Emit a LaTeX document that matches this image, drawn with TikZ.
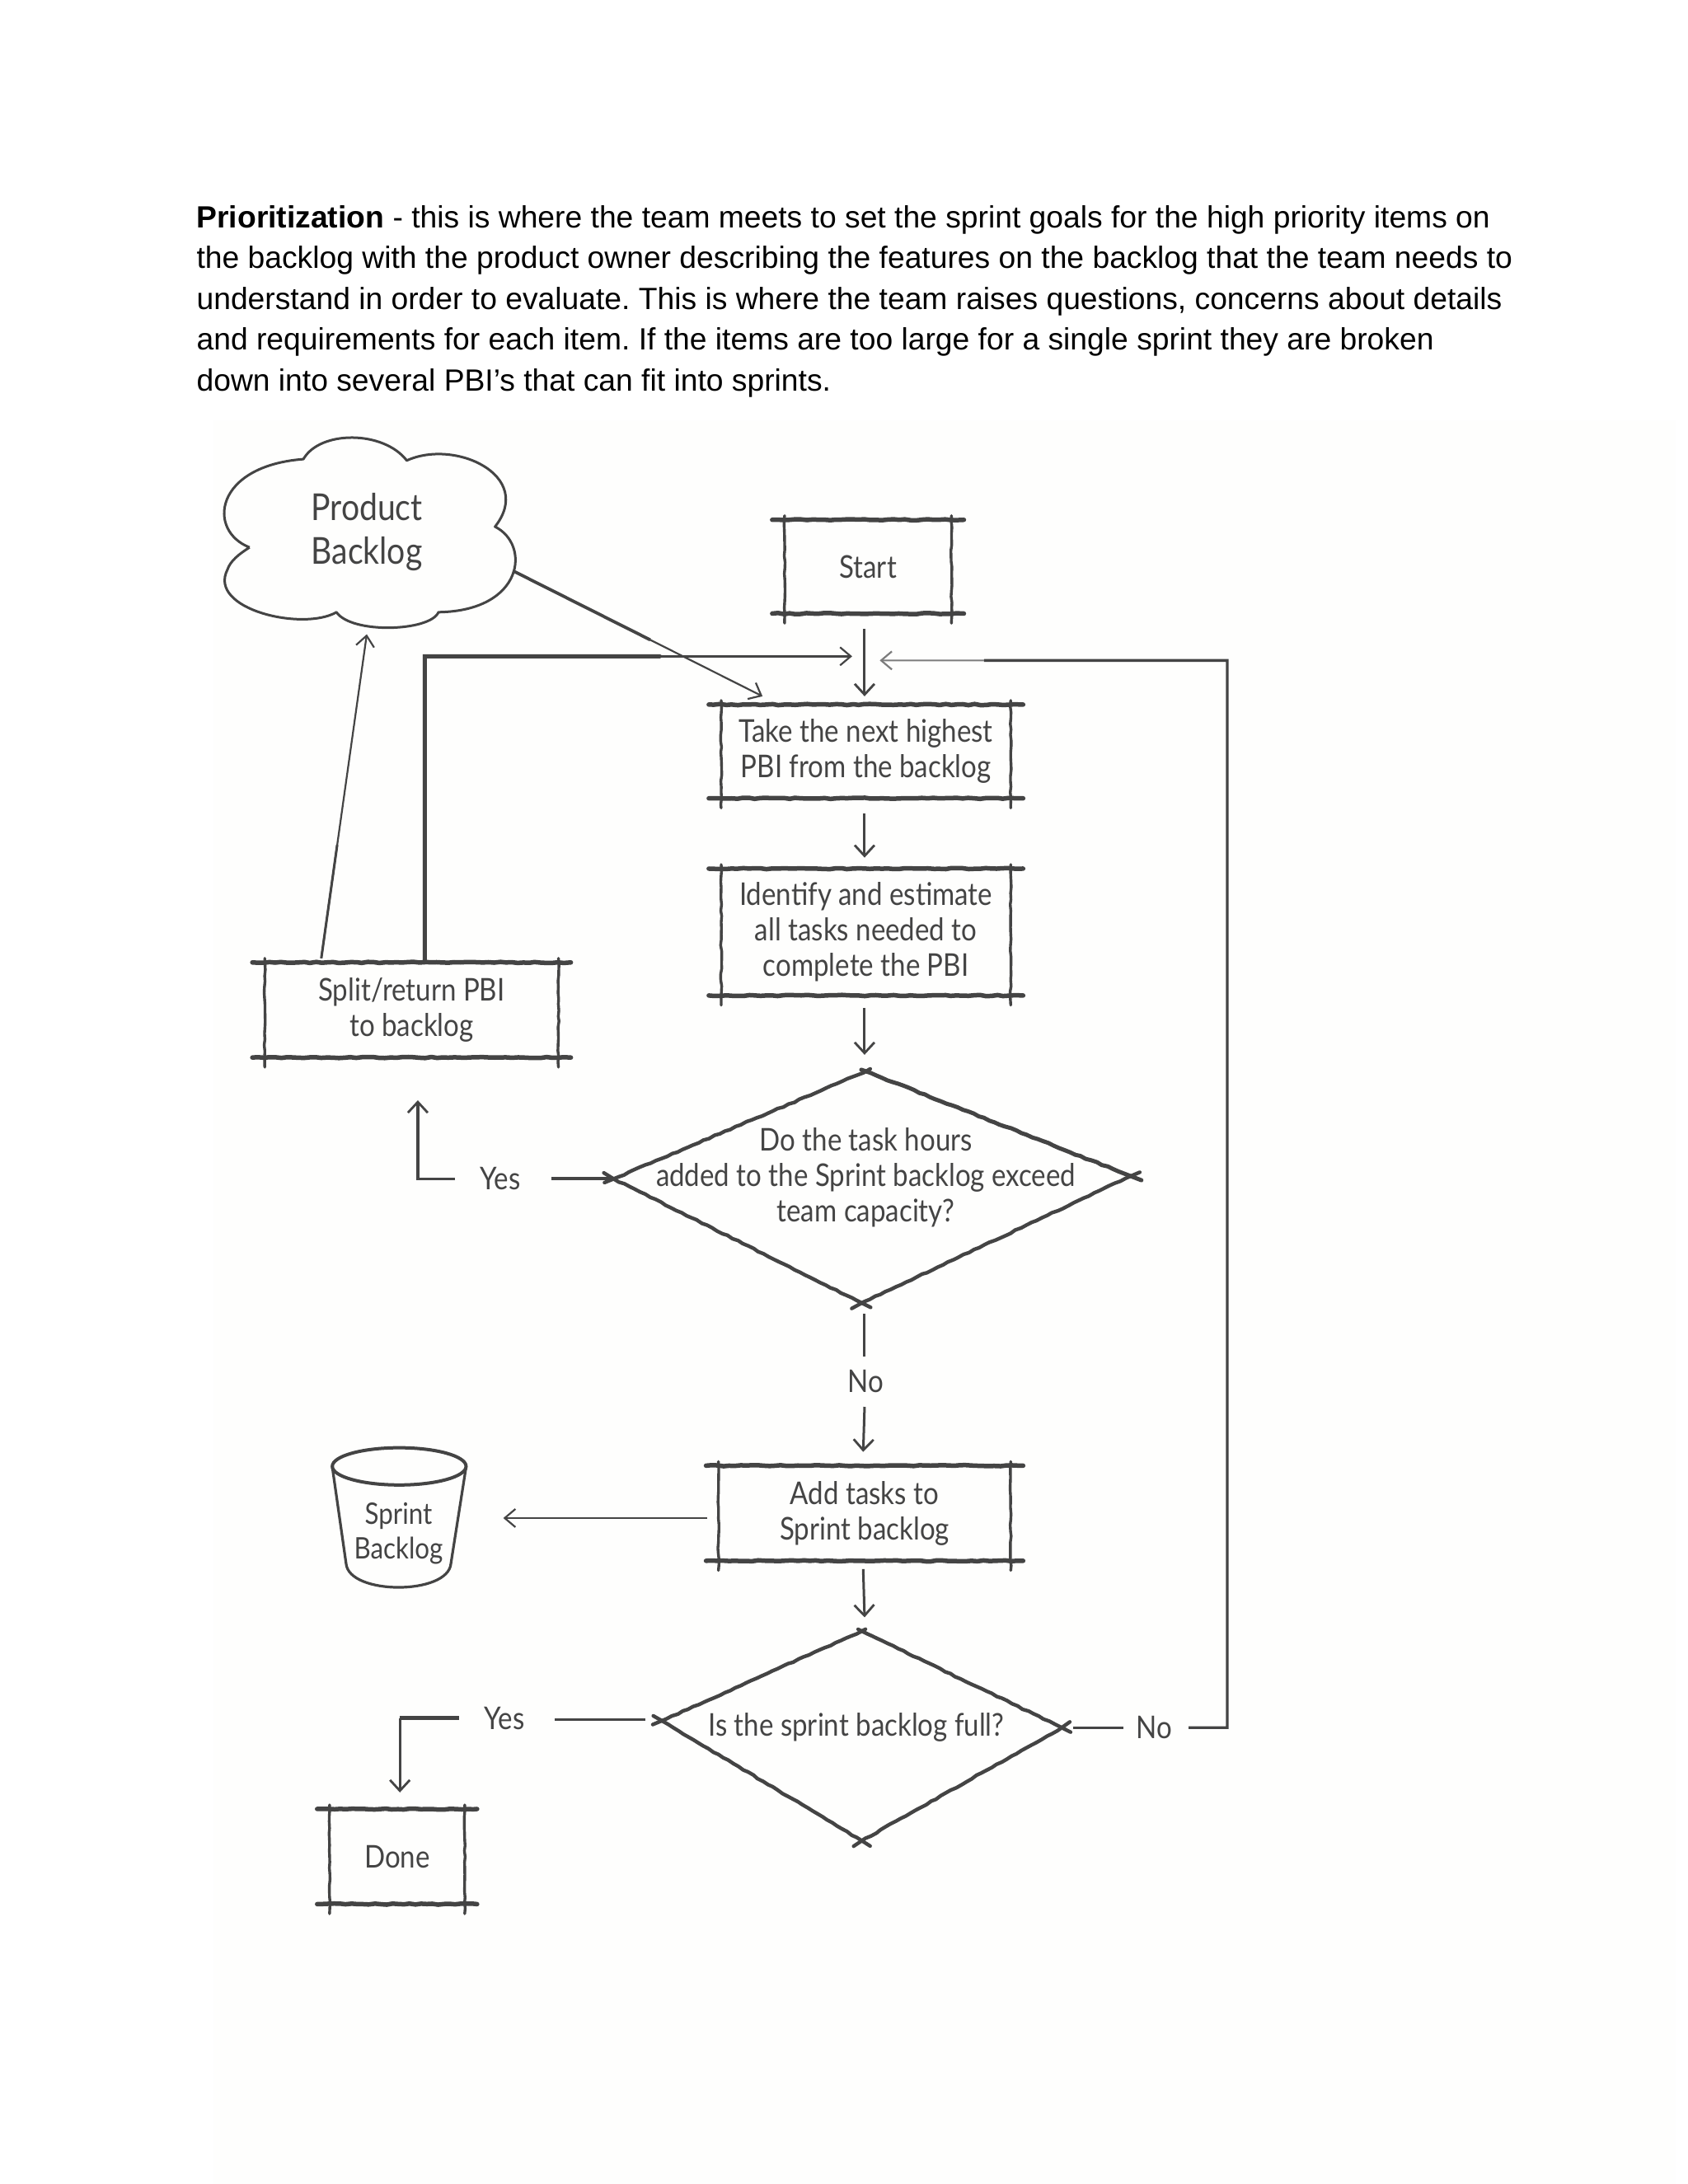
\documentclass[tikz,border=0pt]{standalone}
\usepackage{fontspec}
\setmainfont{Liberation Sans}
\newfontfamily\handfont[FakeStretch=0.87]{Lato}
\usetikzlibrary{arrows.meta,decorations.pathmorphing,fit,calc,shapes.geometric}
\definecolor{ink}{HTML}{444444}
\definecolor{paper}{HTML}{FEFEFD}
\frenchspacing
\tikzset{
  x=1.673pt,y=-1.673pt,
  bodyline/.style={anchor=base west,inner sep=0pt,font=\fontsize{37.25}{44}\selectfont,text=black},
  handtext/.style={font=\handfont\fontsize{38}{43}\selectfont,text=ink,align=center,inner sep=0pt},
  boxnode/.style={inner sep=0pt,outer sep=0pt},
  rough/.style={decorate,decoration={random steps,segment length=7pt,amplitude=0.7pt},draw=ink,line cap=round},
  heavyline/.style={rough,line width=5.5pt},
  sideline/.style={rough,line width=3.4pt},
  lightline/.style={rough,line width=2.4pt},
  conn/.style={draw=ink,line width=3pt,-{Straight Barb[length=13pt,width=24pt,line width=2.8pt]}},
  connthin/.style={draw=ink,line width=2pt,-{Straight Barb[length=13pt,width=22pt,line width=2.2pt]}},
  plainconn/.style={draw=ink,line width=3.4pt},
  heavyconn/.style={draw=ink,line width=5pt},
}
\newcommand{\skbox}[7]{% name, x1,y1,x2,y2, overshoot (x units), text
  \node[boxnode,fit={(#2,#3)(#4,#5)}] (#1) {};
  \node[handtext] (#1text) at (#1.center) {#7};
  \draw[heavyline] ($(#1.north west)+(-#6,0)$) -- ($(#1.north east)+(#6,0)$);
  \draw[heavyline] ($(#1.south west)+(-#6,0)$) -- ($(#1.south east)+(#6,0)$);
  \draw[sideline] ($(#1.north west)+(0,-3)$) -- ($(#1.south west)+(0,7)$);
  \draw[sideline] ($(#1.north east)+(0,-3)$) -- ($(#1.south east)+(0,7)$);
}
\begin{document}
\begin{tikzpicture}
\pgfmathsetseed{7}
\useasboundingbox (0,0) rectangle (1224.15,1584);
\fill[white] (0,0) rectangle (1224.15,1584);
\fill[paper] (155,305) rectangle (1215,1584);

% paragraph
\node[bodyline] (p1) at (142.5,165) {\textbf{Prioritization} - this is where the team meets to set the sprint goals for the high priority items on};
\node[bodyline] (p2) at (142.5,194.6) {the backlog with the product owner describing the features on the backlog that the team needs to};
\node[bodyline] (p3) at (142.5,224.3) {understand in order to evaluate. This is where the team raises questions, concerns about details};
\node[bodyline] (p4) at (142.5,254) {and requirements for each item. If the items are too large for a single sprint they are broken};
\node[bodyline] (p5) at (142.5,283.7) {down into several PBI’s that can fit into sprints.};

% cloud
\draw[draw=ink,line width=3pt,line join=round]
  (181,397) .. controls (150,385) and (155,338) .. (220,333)
  .. controls (232,312) and (278,312) .. (295,334)
  .. controls (330,318) and (388,345) .. (359,382)
  .. controls (385,395) and (380,443) .. (318,444)
  .. controls (312,458) and (255,460) .. (244,444)
  .. controls (220,458) and (150,442) .. (165,413)
  .. controls (167,407) and (173,402) .. (181,397);
\node[handtext,font=\handfont\fontsize{45}{53}\selectfont] (cloud) at (266,386) {Product\\Backlog};
\coordinate (cloudS) at (266,460);
\coordinate (cloudE) at (372,414);

% boxes
\skbox{start}{569}{377}{690}{445}{9}{Start}
\skbox{take}{523}{511}{733}{579}{9}{Take the next highest\\PBI from the backlog}
\skbox{identify}{523}{630}{733}{722}{9}{Identify and estimate\\all tasks needed to\\complete the PBI}
\skbox{split}{192}{698}{405}{767}{9}{Split/return PBI\\to backlog}
\skbox{add}{521}{1063}{733}{1132}{9}{Add tasks to\\Sprint backlog}
\skbox{done}{239}{1312}{337}{1381}{9}{Done}

% decision 1
\coordinate (d1n) at (628,777);
\coordinate (d1e) at (820,853);
\coordinate (d1s) at (625,945);
\coordinate (d1w) at (445,855);
\node[handtext] (d1) at (628,854) {Do the task hours\\added to the Sprint backlog exceed\\team capacity?};
\draw[rough,line width=5pt,shorten <=-6pt,shorten >=-14pt] (d1n) -- (d1e);
\draw[rough,line width=4.4pt,shorten <=-12pt,shorten >=-14pt] (d1e) -- (d1s);
\draw[rough,line width=4.4pt,shorten <=-12pt,shorten >=-14pt] (d1s) -- (d1w);
\draw[rough,line width=4.4pt,shorten <=-12pt,shorten >=-6pt] (d1w) -- (d1n);

% decision 2
\coordinate (d2n) at (625,1183);
\coordinate (d2e) at (770,1253);
\coordinate (d2s) at (625,1335);
\coordinate (d2w) at (480,1248);
\node[handtext] (d2) at (621,1253) {Is the sprint backlog full?};
\draw[rough,line width=4.4pt,shorten <=-5pt,shorten >=-12pt] (d2n) -- (d2e);
\draw[rough,line width=4.4pt,shorten <=-12pt,shorten >=-12pt] (d2e) -- (d2s);
\draw[rough,line width=4.4pt,shorten <=-12pt,shorten >=-12pt] (d2s) -- (d2w);
\draw[rough,line width=4.4pt,shorten <=-12pt,shorten >=-5pt] (d2w) -- (d2n);

% bucket
\node[handtext,font=\handfont\fontsize{36}{42}\selectfont] (bucket) at (289,1112) {Sprint\\Backlog};
\draw[draw=ink,line width=4pt] (289.5,1063.5) ellipse [x radius=48.5,y radius=13.5];
\draw[draw=ink,line width=3.2pt,line join=round]
  (241,1064) -- (251,1134) .. controls (253,1157) and (325,1157) .. (327,1134) -- (338,1064);
\coordinate (bucketE) at (365,1101);

% labels
\node[handtext] (yes1) at (363,855) {Yes};
\node[handtext] (no1) at (628,1002) {No};
\node[handtext] (yes2) at (366,1246) {Yes};
\node[handtext] (no2) at (837,1253) {No};

% helper points
\coordinate (loopL) at (308,476);
\coordinate (loopLEnd) at (618,476);
\coordinate (loopR) at (890,479);
\coordinate (loopREnd) at (638,479);
\coordinate (yes1a) at (400,855);
\coordinate (yes1b) at (330,855);
\coordinate (yes1c) at (303,855);
\coordinate (yes1d) at (303,798);
\coordinate (yes2a) at (402,1247);
\coordinate (yes2b) at (333,1246);
\coordinate (yes2c) at (290,1246);
\coordinate (yes2d) at (290,1300);
\coordinate (no2a) at (815,1253);
\coordinate (no2b) at (862,1253);
\coordinate (no2c) at (890,1253);
\coordinate (takeIn) at (553,505);
\coordinate (splitIn) at (233,695);

% connectors
\draw[conn] (take.north |- start.south) ++(-1,11) -- ++(0,49);
\draw[conn] ($(take.south)+(-1,11)$) -- ($(identify.north)+(-1,-8)$);
\draw[conn] ($(identify.south)+(-1,9)$) -- ($(d1n)+(-1,-12)$);
\draw[plainconn,line width=3pt] ($(d1s)+(2,8)$) -- ($(no1.north -| d1s)+(2,-10)$);
\draw[conn] ($(no1.south)+(-1,10)$) -- ($(add.north)+(-1,-10)$);
\draw[conn] ($(add.south)+(-1,6)$) -- ($(d2n)+(2,-10)$);

% left loop
\draw[heavyconn,line cap=round] (split.north -| loopL) -- (loopL) -- ($(loopL)!0.55!(loopLEnd)$);
\draw[connthin,line width=2.6pt] ($(loopL)!0.5!(loopLEnd)$) -- (loopLEnd);

% right loop
\draw[plainconn,line join=miter] (no2b) -- (no2c) -- (loopR) -- ($(loopR)!0.7!(loopREnd)$);
\draw[connthin,line width=2pt,draw=ink!70] ($(loopR)!0.7!(loopREnd)$) -- (loopREnd);
\draw[plainconn] ($(d2e)+(8,0)$) -- (no2a);

% Product backlog links
\draw[connthin,line width=2.2pt] (cloudE) -- (takeIn);
\draw[plainconn,line width=3.8pt] (cloudE) -- ($(cloudE)!0.55!(takeIn)$);
\draw[connthin,line width=2.2pt] (splitIn) -- (cloudS);
\draw[plainconn,line width=3pt] (splitIn) -- ($(splitIn)!0.35!(cloudS)$);

% yes branch 1
\draw[heavyconn,line width=4pt] ($(d1w)+(-2,0)$) -- (yes1a);
\draw[conn,line width=3.6pt] (yes1b) -- (yes1c) -- (yes1d);
% yes branch 2
\draw[plainconn] ($(d2w)+(-12,-1)$) -- (yes2a);
\draw[heavyconn,line width=4.2pt] (yes2b) -- (yes2c);
\draw[conn] (yes2c) -- (yes2d);
% add to bucket
\draw[connthin,line width=2.8pt] (add.west |- bucketE) ++(-8,0) -- (bucketE);
\end{tikzpicture}
\end{document}
